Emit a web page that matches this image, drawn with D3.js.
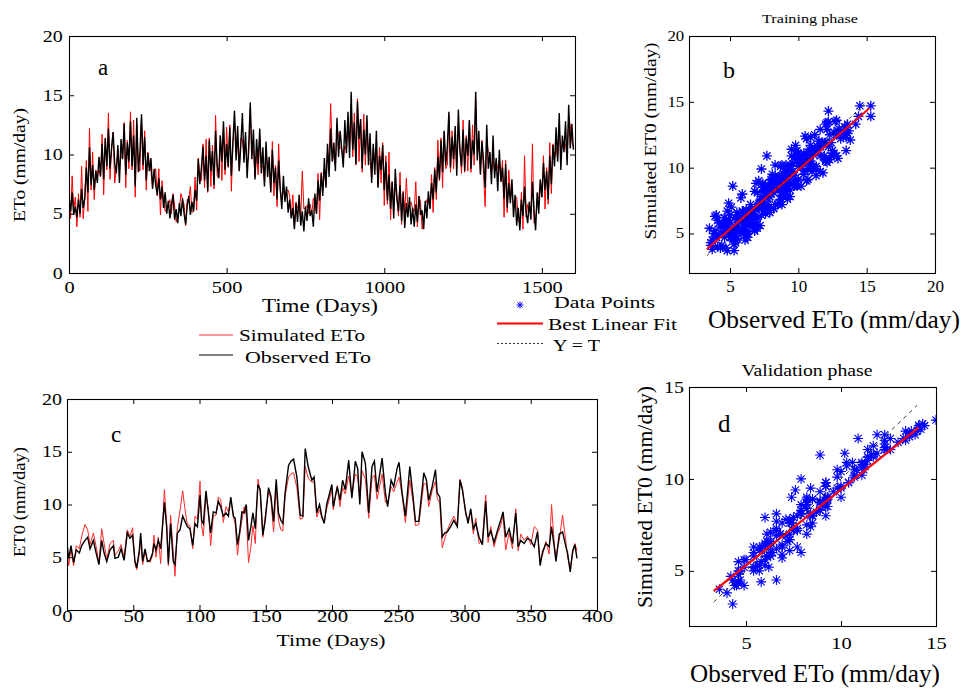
<!DOCTYPE html>
<html><head><meta charset="utf-8">
<script src="https://cdn.jsdelivr.net/npm/d3@7"></script>
<style>
body{margin:0;background:#fff}
svg text{font-family:"Liberation Serif","Times New Roman",serif;fill:#000}
</style></head><body>
<svg id="chart" width="962" height="689"></svg>
<script>
// ---------- Panel a: training period, daily ETo sampled every 5 days ----------
const aStep = 5;
const aObs = [
6.5,5.2,6.8,4.9,5.6,4.7,6.2,5.0,7.1,5.5,6.3,8.9,6.8,10.6,7.4,9.1,7.0,8.6,7.6,9.8,
8.2,10.9,7.9,11.4,9.0,12.2,8.8,10.5,11.9,9.2,8.4,10.8,7.6,11.3,9.6,12.6,8.3,11.0,9.4,12.8,
9.0,11.6,7.3,13.1,8.5,10.2,13.4,9.1,11.5,7.8,10.1,8.6,9.7,7.1,8.8,7.4,6.6,8.0,6.2,7.3,
5.5,6.8,5.0,6.1,4.6,5.8,6.6,4.5,5.4,4.2,5.9,4.8,6.3,5.0,4.1,5.7,6.5,4.9,6.0,5.2,
7.0,6.1,9.6,7.5,8.9,10.7,7.8,9.9,6.9,11.2,8.6,10.3,7.4,12.0,9.1,8.0,11.6,9.4,12.8,8.7,
10.9,9.0,12.3,8.2,11.1,13.7,9.5,12.4,8.6,10.8,13.5,9.3,11.9,8.0,10.7,14.4,9.6,12.1,7.9,11.3,
9.2,12.2,8.4,10.6,7.3,11.1,8.1,9.8,6.8,10.4,7.6,8.9,6.2,9.5,7.1,5.4,8.2,6.0,7.3,5.1,
6.2,4.6,5.5,3.7,5.9,4.3,6.6,4.0,5.2,3.5,5.6,4.4,6.3,4.8,5.3,3.9,6.7,5.0,7.8,6.1,
8.4,6.5,9.7,7.2,10.9,8.1,12.2,9.4,11.0,8.6,13.1,9.8,12.0,10.5,8.9,12.9,10.1,13.6,9.7,15.3,
10.4,12.7,9.2,14.5,11.3,13.0,8.8,12.1,10.0,13.3,9.1,11.8,7.6,10.9,8.3,12.0,7.2,9.9,8.7,10.8,
7.0,9.4,6.1,8.3,5.4,7.7,4.6,8.8,6.3,5.2,7.4,4.4,6.8,3.8,5.9,4.7,6.4,4.1,5.5,3.9,
5.8,4.3,6.5,4.9,5.3,3.7,6.1,4.6,6.9,5.4,7.6,6.2,8.7,6.8,9.8,7.9,11.2,8.5,12.0,9.1,
10.7,13.6,8.9,11.5,9.6,12.4,8.2,13.8,10.3,9.0,12.1,8.6,11.4,9.9,12.9,8.8,11.2,10.0,15.3,9.5,
12.0,8.3,11.1,9.4,7.2,12.5,8.8,10.2,7.5,11.6,8.0,9.7,6.9,10.4,7.7,8.9,6.3,9.2,5.5,7.6,
5.9,7.9,4.7,6.6,4.0,5.5,3.6,6.2,4.8,7.3,5.1,4.2,6.0,4.5,7.7,5.3,3.6,6.8,5.0,7.9,
6.4,9.3,7.0,8.6,6.2,9.9,7.5,10.8,9.0,12.3,9.4,13.5,8.7,11.6,10.2,12.8,9.1,14.2,10.5,12.6,10.4];
const aSim = [
6.7,4.6,8.2,5.3,6.4,3.9,6.7,4.7,9.0,4.6,6.3,9.5,5.2,12.2,7.0,10.2,6.2,8.7,8.3,8.7,
8.1,11.7,6.6,11.3,8.7,13.5,7.9,10.5,11.9,7.6,8.7,10.4,8.7,9.9,9.7,12.7,7.2,11.2,8.8,13.6,
8.7,12.9,6.4,12.5,9.1,8.6,13.1,8.7,12.0,7.0,10.2,9.3,8.6,7.3,8.2,8.8,6.5,8.8,4.9,7.8,
6.1,5.2,5.3,5.7,6.2,5.0,6.7,5.7,4.3,4.9,5.3,6.7,6.2,5.8,4.0,6.2,6.2,7.3,5.1,5.2,
8.1,5.3,9.7,8.2,7.8,10.9,7.2,11.3,6.8,11.4,7.3,10.8,7.1,13.3,8.2,8.0,11.6,7.8,12.5,8.3,
12.3,8.9,12.5,6.9,11.0,12.8,11.4,10.9,8.6,11.4,11.3,9.6,10.9,9.1,9.9,13.9,10.3,10.4,8.1,10.1,
8.3,11.6,9.0,9.0,7.6,10.1,9.2,9.0,6.9,11.1,6.5,9.1,5.6,10.9,7.0,6.2,6.9,6.5,7.0,7.0,
6.5,4.7,6.6,3.8,6.0,5.5,5.5,4.7,8.6,5.4,5.5,5.7,5.0,5.8,5.0,6.3,5.8,5.0,8.4,4.5,
8.5,7.2,8.6,7.4,10.3,9.5,14.3,10.2,9.7,9.1,12.2,11.7,10.5,10.5,9.5,10.7,10.4,12.6,10.8,13.9,
9.8,13.5,9.1,14.7,9.4,12.9,8.5,13.4,9.1,12.7,9.7,9.6,7.9,10.5,9.4,10.6,7.3,10.6,7.6,11.0,
5.7,9.9,5.8,10.2,4.5,7.7,5.7,7.2,6.6,4.8,8.5,4.1,6.9,5.0,8.0,5.4,5.8,6.0,5.4,5.2,
7.7,3.9,6.5,6.0,3.7,4.5,5.7,6.2,6.1,5.5,8.3,5.1,8.9,6.2,11.2,7.8,11.4,7.2,11.9,8.8,
9.1,13.3,8.5,12.0,8.8,11.9,8.9,12.1,10.5,8.4,12.9,8.5,11.6,8.6,12.8,8.5,12.5,9.1,14.7,10.1,
10.6,8.4,11.2,8.3,5.6,11.3,10.2,10.1,8.3,9.7,8.5,9.4,8.8,9.5,7.7,9.5,4.7,9.5,5.1,8.7,
6.7,6.6,5.7,6.3,6.4,4.6,4.1,6.8,3.7,9.9,4.7,5.8,5.2,5.1,10.9,4.2,4.3,6.2,6.4,7.8,
6.4,9.9,5.4,8.9,5.8,11.0,6.7,10.9,9.7,10.6,9.6,12.3,10.1,10.9,11.0,10.9,9.6,13.3,12.4,11.1,10.6];

// ---------- Panel c: validation period ----------
const cDay = [
0,1.3,3,5,7,9.3,11.1,13.6,15.6,17.4, 19.9,22,24.1,26.2,28,30,32.5,35,36.2,38.7,
40.8,43.1,45.5,47.5,49.5,51.3,52.6,54.6,55.6,57.1, 58.9,60.7,62.6,64.6,65.6,67.2,68.9,70.7,73.5,75.2,
76.5,78.2,80.2,81.5,83.3,85.3,87.3,89.1,90.8,92.8, 94.9,96.6,98.4,100.4,101.6,102.9,104.9,106.7,108.4,110.4,
112.5,114.2,116,118,120,121.8,123.6,125.6,126.9,128.7, 130.2,132,133.8,135.3,137,138.8,140.3,142.1,144.1,145.8,
147.8,149.6,152.1,153.9,155.9,157.9,159.6,161.4,162.9,164.6, 167.2,169,171,173.5,176,178,179.8,182,184.8,186.5,
188.5,190.6,192.3,194.1,196,199.9,201,204,206,208, 210,212.6,215,217.6,219.4,221,222.7,225.2,227.7,230.2,
232,234,237.8,240.3,242,244.6,246.6,249.1,250.6,252.9, 255.4,258.7,261.2,263,265.5,269.3,271.3,273,275.6,278.1,
279.4,281.4,283.2,285,287,289.5,292,294.6,296.6,298.4, 300.9,302.7,304.7,306.7,308.5,311,313.5,316,317.8,319.8,
322.3,324.8,327.3,329.1,331.1,333.7,336.2,338.7,340.5,342.5, 345,347.6,350.1,352.6,355.1,357.1,358.9,361.4,363.9,365.7,
367.7,369,371.5,374,376.5,377.8,379.8,381.6,383.3,384.9];
const cObs = [
6.3,4.9,6.1,4.5,5.7,5.4,6.1,6.6,6.9,5.8, 6.6,5.4,4.3,6.6,5.4,4.6,5.7,6.1,4.9,5.0,
5.8,4.7,7.3,6.8,7.1,4.6,4.0,5.7,7.3,4.6, 5.8,4.6,4.7,5.4,6.3,5.7,6.6,5.8,10.2,7.9,
4.4,8.2,4.6,4.3,7.3,7.6,8.9,8.4,7.9,7.7, 6.1,8.2,7.9,10.9,8.5,8.2,11.3,9.2,7.3,9.3,
9.2,10.3,9.8,8.9,9.2,8.9,10.7,8.9,8.7,6.2, 7.3,9.3,9.2,10.0,6.6,7.9,9.2,7.7,11.9,11.4,
7.1,8.5,11.6,10.8,8.4,12.4,9.2,8.5,8.2,11.1, 13.7,14.1,14.3,12.6,9.0,8.9,15.3,13.6,12.3,12.6,
9.2,10.0,8.9,8.2,10.0,11.9,9.8,11.7,10.4,12.3, 11.4,14.2,10.6,14.1,13.4,10.0,15.0,13.9,9.2,13.6,
14.1,11.2,14.4,11.1,9.8,12.3,11.7,13.4,14.0,11.1, 8.9,13.6,10.7,8.4,8.4,13.0,12.3,10.4,11.7,13.3,
11.1,10.7,6.9,7.3,7.4,7.9,8.5,7.9,12.3,11.4, 9.3,8.2,9.6,7.7,8.2,6.9,6.2,10.3,6.9,7.5,
6.4,7.5,8.5,9.3,6.9,7.7,6.3,9.2,6.0,6.6, 6.3,6.8,6.6,6.0,7.4,4.2,5.5,6.3,6.0,7.9,
6.0,4.6,7.2,7.4,6.0,5.4,3.6,5.6,6.2,4.9];
const cSim = [
6.0,4.2,5.8,4.2,6.1,5.8,7.0,8.1,7.6,6.2, 7.3,6.0,4.5,7.7,6.3,4.8,6.3,6.6,5.2,5.6,
6.2,5.0,7.6,7.0,7.8,4.4,3.8,5.3,6.7,4.3, 5.5,4.8,4.5,5.2,7.1,5.0,6.9,4.4,11.4,8.3,
4.2,9.0,5.5,3.2,7.8,9.4,11.3,9.5,8.1,8.0, 5.8,8.9,8.6,12.2,8.0,7.0,10.8,9.6,6.1,8.9,
9.0,10.7,10.5,8.3,9.8,9.3,10.5,8.8,8.2,5.2, 7.0,8.5,9.8,9.0,4.5,6.0,8.0,6.3,12.4,11.2,
6.9,8.9,11.3,10.5,7.4,11.6,8.5,7.6,7.5,10.8, 12.6,12.9,13.0,11.6,8.6,8.7,13.6,12.5,12.1,12.2,
8.8,9.5,8.7,8.4,9.6,11.4,9.5,11.8,9.8,11.6, 11.0,12.7,10.9,12.9,12.6,10.4,13.2,12.4,8.7,12.5,
12.8,10.5,12.9,10.2,10.1,11.7,11.2,12.1,12.6,10.9, 8.3,12.3,10.2,8.0,8.1,12.0,11.9,9.8,11.3,12.2,
10.6,10.1,5.9,6.7,7.6,8.3,8.9,8.1,12.4,11.6, 9.0,8.6,9.3,7.2,8.7,6.3,6.6,10.9,6.4,7.9,
6.0,7.2,8.0,9.0,5.7,7.3,5.8,9.6,5.6,7.2, 6.6,7.0,6.2,7.9,7.6,4.7,5.2,6.5,5.3,10.0,
6.4,5.0,6.6,9.0,6.5,5.0,4.0,5.3,6.3,5.6];

const fitB = [0.90, 0.83], fitRangeB = [3.3, 15.2], idRangeB = [3.3, 15.0];
const fitD = [0.824, 1.18], fitRangeD = [3.3, 14.1], idRangeD = [3.3, 14.0];

// Tick values
const aXTicks = [0,500,1000,1500], aYTicks = [0,5,10,15,20];
const bTicks = [5,10,15,20];
const cXTicks = [0,50,100,150,200,250,300,350,400], cYTicks = [0,5,10,15,20];
const dTicks = [5,10,15];

const svg = d3.select("#chart");

function txt(x,y,s,o={}){
  const t = svg.append("text").attr("font-size",o.size||16).text(s);
  if(o.rot){ t.attr("transform",`translate(${x},${y}) rotate(-90)`).attr("text-anchor","middle"); }
  else { t.attr("x",x).attr("y",y).attr("text-anchor",o.anchor||"start"); }
  if(o.w){ t.attr("textLength",o.w).attr("lengthAdjust","spacingAndGlyphs"); }
  return t;
}

function panel(c){
  const x = d3.scaleLinear().domain(c.xd).range([c.x0,c.x1]);
  const y = d3.scaleLinear().domain(c.yd).range([c.y1,c.y0]);
  const g = svg.append("g");
  const tk = 5;
  const gb = g.append("g").attr("transform",`translate(0,${c.y1})`)
    .call(d3.axisBottom(x).tickValues(c.xt).tickSizeInner(-tk).tickSizeOuter(0).tickPadding(c.xPad).tickFormat(d3.format("d")));
  gb.selectAll("text").attr("font-size",c.xFont).attr("transform",`scale(${c.xSx},1)`);
  g.append("g").attr("transform",`translate(0,${c.y0})`)
    .call(d3.axisTop(x).tickValues(c.xt).tickSizeInner(-tk).tickSizeOuter(0).tickFormat(""));
  const gl = g.append("g").attr("transform",`translate(${c.x0},0)`)
    .call(d3.axisLeft(y).tickValues(c.yt).tickSizeInner(-tk).tickSizeOuter(0).tickPadding(c.yPad).tickFormat(d3.format("d")));
  gl.selectAll("text").attr("font-size",c.yFont).attr("transform",`scale(${c.ySx},1)`);
  g.append("g").attr("transform",`translate(${c.x1},0)`)
    .call(d3.axisRight(y).tickValues(c.yt).tickSizeInner(-tk).tickSizeOuter(0).tickFormat(""));
  g.selectAll(".domain").remove();
  g.selectAll(".tick line").attr("stroke","#000");
  g.append("rect").attr("x",c.x0+0.5).attr("y",c.y0+0.5).attr("width",c.x1-c.x0).attr("height",c.y1-c.y0)
    .attr("fill","none").attr("stroke","#000").attr("stroke-width",1.1);
  const id = "clip"+c.id;
  svg.append("clipPath").attr("id",id).append("rect").attr("x",c.x0).attr("y",c.y0).attr("width",c.x1-c.x0).attr("height",c.y1-c.y0);
  const plot = svg.insert("g","g").attr("clip-path",`url(#${id})`);
  return {x,y,plot};
}

function star(r){
  const k = r*0.72;
  return `M${-r},0H${r}M0,${-r}V${r}M${-k},${-k}L${k},${k}M${-k},${k}L${k},${-k}`;
}

// ---------- Panel a ----------
const A = panel({id:"a",x0:69,x1:575,y0:36,y1:273,xd:[0,1605],yd:[0,20],xt:aXTicks,yt:aYTicks,
  xFont:17,xSx:1.2,xPad:8,yFont:16,ySx:1.25,yPad:5});
const lineA = d3.line().x((d,i)=>A.x(i*aStep)).y(d=>A.y(d));
A.plot.append("path").attr("d",lineA(aSim)).attr("fill","none").attr("stroke","#ff0000").attr("stroke-width",1);
A.plot.append("path").attr("d",lineA(aObs)).attr("fill","none").attr("stroke","#000").attr("stroke-width",1.4);
txt(98,75,"a",{size:23});
txt(320,312,"Time (Days)",{size:19,anchor:"middle",w:116});
txt(25,165,"ETo (mm/day)",{size:17,rot:true,w:114});

// legend a
svg.append("line").attr("x1",199).attr("x2",233).attr("y1",335).attr("y2",335).attr("stroke","#ff0000").attr("stroke-width",0.8);
svg.append("line").attr("x1",199).attr("x2",233).attr("y1",355).attr("y2",355).attr("stroke","#000").attr("stroke-width",1);
txt(239,341,"Simulated ETo",{size:17,w:126});
txt(245,363,"Observed ETo",{size:17,w:126});

// legend b/d
svg.append("path").attr("d",star(3.5)).attr("transform","translate(520,305)").attr("stroke","#0000ff").attr("stroke-width",1).attr("fill","none");
svg.append("line").attr("x1",497).attr("x2",543).attr("y1",323.5).attr("y2",323.5).attr("stroke","#ff0000").attr("stroke-width",2);
svg.append("line").attr("x1",497).attr("x2",543).attr("y1",343.5).attr("y2",343.5).attr("stroke","#000").attr("stroke-width",0.8).attr("stroke-dasharray","2,2");
txt(554,308,"Data Points",{size:16,w:101});
txt(548,330,"Best Linear Fit",{size:16,w:129});
txt(553,351,"Y = T",{size:17,w:47});

// ---------- Panel b ----------
const B = panel({id:"b",x0:689,x1:935,y0:36,y1:273,xd:[2,20],yd:[2,20],xt:bTicks,yt:bTicks,
  xFont:17,xSx:1.0,xPad:7,yFont:14,ySx:1.2,yPad:4});
B.plot.selectAll("path.pt").data(aObs).join("path").attr("class","pt")
  .attr("d",star(5)).attr("transform",(d,i)=>`translate(${B.x(d)},${B.y(aSim[i])})`)
  .attr("stroke","#0000ff").attr("stroke-width",1.3).attr("fill","none");
B.plot.append("line").attr("x1",B.x(fitRangeB[0])).attr("y1",B.y(fitB[0]*fitRangeB[0]+fitB[1]))
  .attr("x2",B.x(fitRangeB[1])).attr("y2",B.y(fitB[0]*fitRangeB[1]+fitB[1])).attr("stroke","#ff0000").attr("stroke-width",2);
B.plot.append("line").attr("x1",B.x(idRangeB[0])).attr("y1",B.y(idRangeB[0]))
  .attr("x2",B.x(idRangeB[1])).attr("y2",B.y(idRangeB[1])).attr("stroke","#000").attr("stroke-width",0.8).attr("stroke-dasharray","3,3");
txt(810,23,"Training phase",{size:13,anchor:"middle",w:96});
txt(723,78,"b",{size:24});
txt(656,141,"Simulated ET0 (mm/day)",{size:17,rot:true,w:197});
txt(834,328,"Observed ETo (mm/day)",{size:25,anchor:"middle",w:252});

// ---------- Panel c ----------
const C = panel({id:"c",x0:67,x1:597,y0:399,y1:610,xd:[0,400],yd:[0,20],xt:cXTicks,yt:cYTicks,
  xFont:17,xSx:1.22,xPad:0,yFont:16,ySx:1.25,yPad:4});
const lineC = d3.line().x((d,i)=>C.x(cDay[i])).y(d=>C.y(d));
C.plot.append("path").attr("d",lineC(cSim)).attr("fill","none").attr("stroke","#ff2a2a").attr("stroke-width",1);
C.plot.append("path").attr("d",lineC(cObs)).attr("fill","none").attr("stroke","#000").attr("stroke-width",1.4);
txt(111,442,"c",{size:23});
txt(331,646,"Time (Days)",{size:17,anchor:"middle",w:109});
txt(25,502,"ET0 (mm/day)",{size:16,rot:true,w:110});

// ---------- Panel d ----------
const D = panel({id:"d",x0:689,x1:936,y0:387,y1:626,xd:[2,15],yd:[2,15],xt:dTicks,yt:dTicks,
  xFont:17,xSx:1.2,xPad:11,yFont:16,ySx:1.25,yPad:4});
D.plot.selectAll("path.pt").data(cObs).join("path").attr("class","pt")
  .attr("d",star(5)).attr("transform",(d,i)=>`translate(${D.x(d)},${D.y(cSim[i])})`)
  .attr("stroke","#0000ff").attr("stroke-width",1.1).attr("fill","none");
D.plot.append("line").attr("x1",D.x(fitRangeD[0])).attr("y1",D.y(fitD[0]*fitRangeD[0]+fitD[1]))
  .attr("x2",D.x(fitRangeD[1])).attr("y2",D.y(fitD[0]*fitRangeD[1]+fitD[1])).attr("stroke","#ff0000").attr("stroke-width",2.2);
D.plot.append("line").attr("x1",D.x(idRangeD[0])).attr("y1",D.y(idRangeD[0]))
  .attr("x2",D.x(idRangeD[1])).attr("y2",D.y(idRangeD[1])).attr("stroke","#000").attr("stroke-width",0.8).attr("stroke-dasharray","4,4");
txt(807,376,"Validation phase",{size:16,anchor:"middle",w:131});
txt(718,432,"d",{size:25});
txt(652,497,"Simulated ET0 (mm/day)",{size:20,rot:true,w:222});
txt(815,682,"Observed ETo (mm/day)",{size:25,anchor:"middle",w:250});
</script>
</body></html>
